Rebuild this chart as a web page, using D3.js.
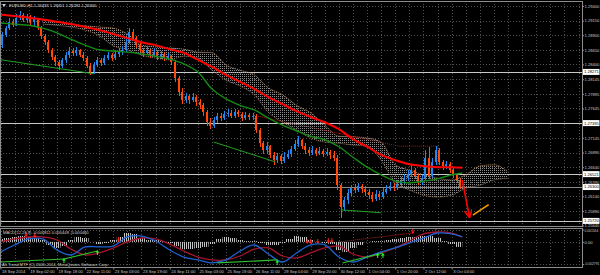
<!DOCTYPE html>
<html>
<head>
<meta charset="utf-8">
<script src="https://cdn.jsdelivr.net/npm/d3@7"></script>
<style>
body { margin: 0; background: #000; }
svg { display: block; }
text { font-family: "Liberation Sans", Arial, sans-serif; }
</style>
</head>
<body>
<script>
var width = 600;
var height = 275;
var plotRight = 582;
var mainTop = 1, mainBottom = 226;
var macdTop = 228, macdBottom = 267;
var fontSize = 4.1;

// EURUSD H1, drawn as 2-hour candles (candle k covers bars 2k..2k+2)
var firstOpen = 1.2873;
var closes = [1.2890,1.2902,1.2913,1.2907,1.2919,1.2925,1.2916,1.2921,1.2913,1.2918,
  1.2902,1.2889,1.2878,1.2865,1.2853,1.2844,1.2837,1.2848,1.2856,1.2863,
  1.2860,1.2865,1.2856,1.2851,1.2837,1.2827,1.2839,1.2848,1.2842,1.2851,
  1.2856,1.2851,1.2858,1.2861,1.2865,1.2878,1.2895,1.2885,1.2873,1.2865,
  1.2860,1.2865,1.2856,1.2861,1.2853,1.2858,1.2851,1.2854,1.2844,1.2817,
  1.2793,1.2779,1.2786,1.2779,1.2784,1.2776,1.2770,1.2758,1.2741,1.2735,
  1.2745,1.2752,1.2748,1.2755,1.2757,1.2752,1.2758,1.2755,1.2748,1.2753,
  1.2750,1.2752,1.2728,1.2705,1.2693,1.2700,1.2685,1.2676,1.2683,1.2675,
  1.2681,1.2687,1.2695,1.2704,1.2711,1.2700,1.2693,1.2688,1.2693,1.2688,
  1.2692,1.2687,1.2690,1.2685,1.2680,1.2633,1.2596,1.2608,1.2620,1.2628,
  1.2625,1.2632,1.2627,1.2621,1.2616,1.2610,1.2618,1.2613,1.2621,1.2627,
  1.2632,1.2628,1.2635,1.2640,1.2645,1.2652,1.2659,1.2649,1.2639,1.2645,
  1.2680,1.2649,1.2673,1.2693,1.2673,1.2666,1.2669,1.2659,1.2651,1.2642,
  1.2630];
var highs = [1.2895,1.2906,1.2919,1.2918,1.2926,1.2931,1.2928,1.2926,1.2925,1.2923,
  1.2919,1.2906,1.2892,1.2882,1.2868,1.2856,1.2848,1.2851,1.2861,1.2870,
  1.2868,1.2870,1.2866,1.2861,1.2854,1.2842,1.2844,1.2853,1.2851,1.2856,
  1.2861,1.2860,1.2865,1.2868,1.2872,1.2885,1.2902,1.2901,1.2889,1.2878,
  1.2868,1.2870,1.2866,1.2868,1.2865,1.2863,1.2861,1.2860,1.2856,1.2848,
  1.2820,1.2800,1.2791,1.2789,1.2791,1.2788,1.2781,1.2774,1.2762,1.2748,
  1.2750,1.2757,1.2757,1.2760,1.2764,1.2762,1.2764,1.2762,1.2758,1.2758,
  1.2757,1.2757,1.2755,1.2731,1.2709,1.2707,1.2702,1.2690,1.2688,1.2687,
  1.2690,1.2693,1.2700,1.2711,1.2717,1.2712,1.2705,1.2699,1.2700,1.2697,
  1.2699,1.2695,1.2697,1.2693,1.2692,1.2685,1.2637,1.2613,1.2627,1.2633,
  1.2635,1.2637,1.2635,1.2632,1.2627,1.2621,1.2625,1.2623,1.2628,1.2633,
  1.2639,1.2637,1.2642,1.2647,1.2652,1.2659,1.2668,1.2663,1.2652,1.2651,
  1.2693,1.2699,1.2680,1.2700,1.2697,1.2676,1.2675,1.2673,1.2663,1.2654,
  1.2645];
var lows = [1.2868,1.2887,1.2899,1.2904,1.2906,1.2916,1.2913,1.2911,1.2907,1.2906,
  1.2899,1.2883,1.2873,1.2860,1.2848,1.2837,1.2830,1.2834,1.2842,1.2851,
  1.2854,1.2854,1.2853,1.2846,1.2834,1.2822,1.2824,1.2836,1.2837,1.2839,
  1.2848,1.2846,1.2848,1.2853,1.2856,1.2861,1.2875,1.2882,1.2868,1.2861,
  1.2853,1.2856,1.2851,1.2853,1.2848,1.2849,1.2846,1.2848,1.2839,1.2810,
  1.2786,1.2772,1.2774,1.2772,1.2776,1.2769,1.2764,1.2752,1.2735,1.2729,
  1.2731,1.2740,1.2743,1.2745,1.2750,1.2748,1.2748,1.2750,1.2743,1.2745,
  1.2745,1.2745,1.2723,1.2699,1.2687,1.2687,1.2680,1.2668,1.2671,1.2669,
  1.2671,1.2678,1.2681,1.2692,1.2699,1.2695,1.2687,1.2683,1.2685,1.2683,
  1.2685,1.2681,1.2683,1.2678,1.2675,1.2625,1.2577,1.2589,1.2601,1.2615,
  1.2620,1.2621,1.2620,1.2615,1.2610,1.2604,1.2606,1.2608,1.2610,1.2618,
  1.2623,1.2623,1.2625,1.2630,1.2635,1.2640,1.2647,1.2644,1.2633,1.2633,
  1.2642,1.2644,1.2645,1.2668,1.2668,1.2659,1.2661,1.2654,1.2645,1.2637,
  1.2627];

// moving averages, read every 8 bars
var maBars = [0,8,16,24,32,40,48,56,64,72,80,88,96,104,112,120,128,136,144,152,160,168,176,184,192,200,208,216,224,232,240,248,256,262];
var redMA = [1.2925,1.2923,1.2920,1.2917,1.2913,1.2909,1.2904,1.2899,1.2892,1.2885,1.2878,1.2873,1.2866,1.2860,1.2848,1.2836,1.2822,1.2810,1.2798,1.2784,1.2772,1.2760,1.2750,1.2741,1.2729,1.2712,1.2699,1.2685,1.2676,1.2669,1.2666,1.2664,1.2664,1.2663];
var greenMA = [1.2911,1.2909,1.2907,1.2902,1.2894,1.2883,1.2873,1.2865,1.2863,1.2861,1.2858,1.2854,1.2849,1.2841,1.2827,1.2798,1.2781,1.2770,1.2762,1.2748,1.2736,1.2726,1.2717,1.2711,1.2699,1.2681,1.2664,1.2651,1.2640,1.2637,1.2640,1.2644,1.2651,1.2654];

// ichimoku cloud edges
var cloudBars = [24,32,40,48,56,64,72,80,88,96,104,112,120,128,136,144,152,160,168,176,184,192,200,208,216,224,232,240,248,256,264,272,280,288];
var cloudTop = [1.2916,1.2913,1.2909,1.2906,1.2904,1.2902,1.2892,1.2873,1.2870,1.2868,1.2866,1.2861,1.2860,1.2839,1.2830,1.2822,1.2800,1.2788,1.2770,1.2757,1.2736,1.2717,1.2716,1.2714,1.2707,1.2668,1.2659,1.2651,1.2645,1.2642,1.2651,1.2666,1.2668,1.2656];
var cloudBottom = [1.2909,1.2907,1.2904,1.2899,1.2889,1.2872,1.2865,1.2856,1.2851,1.2848,1.2854,1.2851,1.2830,1.2813,1.2803,1.2788,1.2758,1.2741,1.2728,1.2714,1.2707,1.2705,1.2702,1.2700,1.2676,1.2637,1.2625,1.2616,1.2613,1.2616,1.2628,1.2633,1.2642,1.2645];

// trend lines [bar, price, bar, price]
var supportLines = [[0,1.2848,53,1.2824],[121,1.2707,156,1.2673],[193,1.2591,216,1.2586]];
var resistLines = [[145,1.2752,226,1.2700],[226,1.2700,248,1.2700],[248,1.2700,248,1.2666]];
var forecastDown = [262,1.2642,266,1.2580];
var forecastUp = [268,1.2582,277,1.2600];

// MACD window
var histBars = [0,4,8,12,16,20,24,28,32,36,40,44,48,52,56,60,64,68,72,76,80,84,88,92,96,100,104,108,112,116,120,124,128,132,136,140,144,148,152,156,160,164,168,172,176,180,184,188,192,196,200,204,208,212,216,220,224,228,232,236,240,244,248,252,256,260];
var histValues = [0.00037,0.00049,0.00062,0.00074,0.00062,0.00049,0.00024,-0.00039,-0.00077,-0.00052,
  0.00024,0.00062,0.00049,-0.00002,-0.00027,-0.00014,0.00024,0.00062,0.00112,0.00100,
  0.00049,0.00024,0.00024,0.00011,-0.00014,-0.00052,-0.00090,-0.00090,-0.00077,-0.00064,
  -0.00027,0.00037,0.00062,0.00049,0.00024,0.00011,0.00011,-0.00014,-0.00039,-0.00039,
  -0.00014,0.00037,0.00074,0.00062,0.00024,-0.00002,-0.00014,-0.00027,-0.00102,-0.00127,
  -0.00077,-0.00039,-0.00002,0.00011,0.00011,0.00024,0.00037,0.00049,0.00062,0.00062,
  0.00074,0.00074,0.00049,0.00011,-0.00027,-0.00064];
var macdBlue = [-0.00127,-0.00039,0.00037,0.00037,-0.00102,-0.00165,-0.00064,-0.00064,-0.00052,0.00062,0.00074,0.00011,-0.00102,-0.00191,-0.00228,-0.00266,-0.00228,-0.00115,-0.00039,-0.00153,-0.00254,-0.00140,-0.00039,-0.00039,-0.00190,-0.00254,-0.00191,-0.00127,-0.00077,-0.00014,0.00049,0.00112,0.00100,0.00062];
var macdRed = [0.00000,0.00037,0.00062,0.00062,0.00024,-0.00090,-0.00165,-0.00140,-0.00077,-0.00001,0.00049,0.00037,-0.00027,-0.00115,-0.00191,-0.00228,-0.00228,-0.00178,-0.00090,-0.00077,-0.00178,-0.00203,-0.00140,-0.00077,-0.00052,-0.00153,-0.00191,-0.00140,-0.00077,0.00011,0.00100,0.00125,0.00112,0.00062];
var sellBars = [14.5,19.5,67,174,176,180,186,188,234,247];
var sellValues = [0.00074,0.00062,0.00011,-0.00014,-0.00014,-0.00014,-0.00001,-0.00001,0.00112,0.00160];
var buyBars = [36,55,157,214,217];
var buyValues = [-0.00216,-0.00115,-0.00241,-0.00153,-0.00153];
var macdGreenLines = [[0,-0.00254,36,-0.00216],[36,-0.00216,55,-0.00115],[123,-0.00266,157,-0.00228],[194,-0.00266,217,-0.00140]];
var macdRedLines = [[192,0.00000,234,0.00112]];

// scales' tick labels
var priceTicks = [1.29400,1.29150,1.28900,1.28650,1.28400,1.28145,1.27895,1.27645,1.27145,1.26890,1.26640,1.26390,1.26140,1.25890,1.25640];
var levels = [1.28271,1.27395,1.26521,1.25720];
var bid = 1.26300;
var macdTicks = [0.001564,0,-0.002791];
var macdTickText = ["0.001564","0.00","-0.002791"];
var timeBars = [0,16,32,48,64,80,96,112,128,144,160,176,192,208,224,240,256];
var timeLabels = ["18 Sep 2014","19 Sep 02:00","19 Sep 18:00","22 Sep 11:00","23 Sep 03:00","23 Sep 19:00","24 Sep 11:00","25 Sep 03:00","25 Sep 19:00","26 Sep 11:00","29 Sep 04:00","29 Sep 20:00","30 Sep 12:00","1 Oct 04:00","1 Oct 20:00","2 Oct 12:00","3 Oct 04:00"];
var title = "EURUSD,H1  1.26433 1.26451 1.26281 1.26300";
var macdTitle = "MACD(12,26,9) -0.000811 0.000448 -0.000460";
var footer = "Alt.Trend MTF (C) 2005-2014, MetaQuotes Software Corp.";

var x = d3.scaleLinear()
.domain([0,330])
.range([0.5,582.1]);

var y = d3.scaleLinear()
.domain([1.2940,1.2565])
.range([6,225]);

var my = d3.scaleLinear()
.domain([0.001564,-0.002791])
.range([229.5,264]);

var svg = d3.select("body").append("svg")
.attr("width",width)
.attr("height",height)
.style("background","#000")

var defs = svg.append("defs")
defs.append("pattern").attr("id","kumo")
.attr("width",2).attr("height",2).attr("patternUnits","userSpaceOnUse")
.append("rect").attr("width",1).attr("height",1).attr("fill","#8a8a8a")
defs.append("pattern").attr("id","stripes")
.attr("width",2).attr("height",4).attr("patternUnits","userSpaceOnUse")
.append("rect").attr("width",1).attr("height",4).attr("fill","#c4c4c4")
defs.append("clipPath").attr("id","clipMain")
.append("rect").attr("x",0).attr("y",mainTop).attr("width",plotRight).attr("height",mainBottom-mainTop)
defs.append("clipPath").attr("id","clipMacd")
.append("rect").attr("x",0).attr("y",macdTop).attr("width",plotRight).attr("height",macdBottom-macdTop)

// grid
var grid = svg.append("g")
.attr("stroke","#505050")
.attr("stroke-dasharray","1,2")
.attr("shape-rendering","crispEdges")
d3.range(0,329,8).forEach(function(b) {
    var gx = Math.round(x(b)) + 0.5
    grid.append("line").attr("x1",gx).attr("x2",gx).attr("y1",mainTop).attr("y2",mainBottom)
    grid.append("line").attr("x1",gx).attr("x2",gx).attr("y1",macdTop).attr("y2",macdBottom)
})
priceTicks.concat([1.27395]).forEach(function(p) {
    var gy = Math.round(y(p)) + 0.5
    grid.append("line").attr("x1",0).attr("x2",plotRight).attr("y1",gy).attr("y2",gy)
})
macdTicks.forEach(function(v) {
    var gy = Math.round(my(v)) + 0.5
    grid.append("line").attr("x1",0).attr("x2",plotRight).attr("y1",gy).attr("y2",gy)
})

var main = svg.append("g").attr("clip-path","url(#clipMain)")

// horizontal levels and bid line
main.selectAll(".level").data(levels).enter().append("line")
.attr("x1",0).attr("x2",plotRight)
.attr("y1",function(d) { return Math.round(y(d)) + 0.5 })
.attr("y2",function(d) { return Math.round(y(d)) + 0.5 })
.attr("stroke","#c8c8c8").attr("stroke-width",1)
main.append("line")
.attr("x1",0).attr("x2",plotRight)
.attr("y1",Math.round(y(bid)) + 0.5).attr("y2",Math.round(y(bid)) + 0.5)
.attr("stroke","#8a8a8a")

// cloud
var cloudData = cloudBars.map(function(b, i) { return [b, cloudTop[i], cloudBottom[i]] })
main.append("path").datum(cloudData)
.attr("d", d3.area().curve(d3.curveMonotoneX)
    .x(function(d) { return x(d[0]) })
    .y0(function(d) { return y(d[2]) })
    .y1(function(d) { return y(d[1]) }))
.attr("fill","url(#kumo)")
main.append("path").datum(cloudData)
.attr("d", d3.line().curve(d3.curveMonotoneX).x(function(d) { return x(d[0]) }).y(function(d) { return y(d[1]) }))
.attr("fill","none").attr("stroke","#c8976a").attr("stroke-dasharray","1,1")
main.append("path").datum(cloudData)
.attr("d", d3.line().curve(d3.curveMonotoneX).x(function(d) { return x(d[0]) }).y(function(d) { return y(d[2]) }))
.attr("fill","none").attr("stroke","#9c7d64").attr("stroke-dasharray","1,1")

// resistance (dotted dark red) and support (green) lines
main.selectAll(".res").data(resistLines).enter().append("line")
.attr("x1",function(d) { return x(d[0]) }).attr("y1",function(d) { return y(d[1]) })
.attr("x2",function(d) { return x(d[2]) }).attr("y2",function(d) { return y(d[3]) })
.attr("stroke","#a01414").attr("stroke-dasharray","1,1")

// candles
var candles = closes.map(function(c, i) {
    var o = i == 0 ? firstOpen : closes[i-1]
    return { bar: 2*i + 1, o: o, c: c, h: Math.max(highs[i], o, c), l: Math.min(lows[i], o, c) }
})
var cg = main.append("g").attr("shape-rendering","crispEdges")
cg.selectAll(".wick").data(candles).enter().append("line")
.attr("x1",function(d) { return Math.round(x(d.bar)) + 0.5 })
.attr("x2",function(d) { return Math.round(x(d.bar)) + 0.5 })
.attr("y1",function(d) { return y(d.h) })
.attr("y2",function(d) { return y(d.l) })
.attr("stroke",function(d) { return d.c >= d.o ? "#2288ee" : "#ff4a0a" })
cg.selectAll(".body").data(candles).enter().append("rect")
.attr("x",function(d) { return Math.round(x(d.bar)) - 1 })
.attr("width",2)
.attr("y",function(d) { return y(Math.max(d.o, d.c)) })
.attr("height",function(d) { return Math.max(1, Math.abs(y(d.o) - y(d.c))) })
.attr("fill",function(d) { return d.c >= d.o ? "#2288ee" : "#ff4a0a" })

main.selectAll(".sup").data(supportLines).enter().append("line")
.attr("x1",function(d) { return x(d[0]) }).attr("y1",function(d) { return y(d[1]) })
.attr("x2",function(d) { return x(d[2]) }).attr("y2",function(d) { return y(d[3]) })
.attr("stroke","#22a022").attr("stroke-width",1)

// moving averages
var maLine = d3.line().curve(d3.curveCatmullRom)
.x(function(d) { return x(d[0]) })
.y(function(d) { return y(d[1]) })
main.append("path").datum(d3.zip(maBars, greenMA))
.attr("d",maLine).attr("fill","none").attr("stroke","#158a15").attr("stroke-width",1.4)
main.append("path").datum(d3.zip(maBars, redMA))
.attr("d",maLine).attr("fill","none").attr("stroke","#ff0000").attr("stroke-width",2)

// forecast arrows
defs.append("marker").attr("id","head")
.attr("viewBox","0 0 10 10").attr("refX",8).attr("refY",5)
.attr("markerWidth",5).attr("markerHeight",5).attr("orient","auto")
.append("path").attr("d","M0,0 L10,5 L0,10").attr("fill","none").attr("stroke","#ff0000").attr("stroke-width",2)
main.append("line")
.attr("x1",x(forecastDown[0])).attr("y1",y(forecastDown[1]))
.attr("x2",x(forecastDown[2])).attr("y2",y(forecastDown[3]))
.attr("stroke","#ff0000").attr("stroke-width",1.6).attr("marker-end","url(#head)")
main.append("line")
.attr("x1",x(forecastUp[0])).attr("y1",y(forecastUp[1]))
.attr("x2",x(forecastUp[2])).attr("y2",y(forecastUp[3]))
.attr("stroke","#ffa000").attr("stroke-width",1.5)

// MACD window
var macd = svg.append("g").attr("clip-path","url(#clipMacd)")
var bw = x(4) - x(0)
macd.selectAll(".hist").data(d3.zip(histBars, histValues)).enter().append("rect")
.attr("x",function(d) { return x(d[0]) - bw/2 })
.attr("width",bw)
.attr("y",function(d) { return my(Math.max(0, d[1])) })
.attr("height",function(d) { return Math.abs(my(d[1]) - my(0)) })
.attr("fill","url(#stripes)")
var mLine = d3.line().curve(d3.curveCatmullRom)
.x(function(d) { return x(d[0]) })
.y(function(d) { return my(d[1]) })
macd.append("path").datum(d3.zip(maBars, macdRed))
.attr("d",mLine).attr("fill","none").attr("stroke","#a8142e").attr("stroke-width",1.3)
macd.append("path").datum(d3.zip(maBars, macdBlue))
.attr("d",mLine).attr("fill","none").attr("stroke","#1e62d0").attr("stroke-width",1.3)
macd.selectAll(".mg").data(macdGreenLines).enter().append("line")
.attr("x1",function(d) { return x(d[0]) }).attr("y1",function(d) { return my(d[1]) })
.attr("x2",function(d) { return x(d[2]) }).attr("y2",function(d) { return my(d[3]) })
.attr("stroke","#30c030").attr("stroke-width",1.2)
macd.selectAll(".mr").data(macdRedLines).enter().append("line")
.attr("x1",function(d) { return x(d[0]) }).attr("y1",function(d) { return my(d[1]) })
.attr("x2",function(d) { return x(d[2]) }).attr("y2",function(d) { return my(d[3]) })
.attr("stroke","#c01818").attr("stroke-dasharray","1,1")

macd.selectAll(".sell").data(d3.zip(sellBars, sellValues)).enter().append("path")
.attr("transform",function(d) { return "translate(" + x(d[0]) + "," + (my(d[1]) - 1) + ")" })
.attr("d","M-1.8,-0.5 L1.8,-0.5 L0,2 Z M-0.5,-3 L0.5,-3 L0.5,-0.5 L-0.5,-0.5 Z")
.attr("fill","#ff2020")
macd.selectAll(".buy").data(d3.zip(buyBars, buyValues)).enter().append("path")
.attr("transform",function(d) { return "translate(" + x(d[0]) + "," + (my(d[1]) + 1) + ")" })
.attr("d","M-1.8,0.5 L1.8,0.5 L0,-2 Z M-0.5,3 L0.5,3 L0.5,0.5 L-0.5,0.5 Z")
.attr("fill","#20ff20")

// frames
svg.append("rect").attr("x",0.5).attr("y",mainTop + 0.5).attr("width",plotRight).attr("height",mainBottom - mainTop)
.attr("fill","none").attr("stroke","#8c8c8c")
svg.append("rect").attr("x",0.5).attr("y",macdTop + 0.5).attr("width",plotRight).attr("height",macdBottom - macdTop)
.attr("fill","none").attr("stroke","#8c8c8c")

// price axis
var pAxis = svg.append("g")
.attr("transform","translate(" + (plotRight + 0.5) + ",0)")
.call(d3.axisRight(y).tickValues(priceTicks).tickSize(1.5).tickPadding(0.5).tickFormat(d3.format(".5f")))
var mAxis = svg.append("g")
.attr("transform","translate(" + (plotRight + 0.5) + ",0)")
.call(d3.axisRight(my).tickValues(macdTicks).tickSize(1.5).tickPadding(0.5).tickFormat(function(d, i) { return macdTickText[i] }))
var tAxis = svg.append("g")
.attr("transform","translate(0," + (macdBottom + 0.5) + ")")
.call(d3.axisBottom(x).tickValues(timeBars).tickSize(2).tickPadding(1).tickFormat(function(d, i) { return timeLabels[i] }))
;[pAxis, mAxis, tAxis].forEach(function(a) {
    a.select(".domain").remove()
    a.attr("font-family",null).attr("font-size",fontSize)
    a.selectAll("line").attr("stroke","#8c8c8c")
    a.selectAll("text").attr("fill","#c8c8c8")
})
tAxis.selectAll("text").attr("text-anchor","start").attr("dx",1)
// the long MACD labels use a smaller size so they stay inside the window
mAxis.selectAll("text")
.attr("font-size",function(d, i) { return i == 1 ? fontSize : 3.3 })
mAxis.selectAll(".tick").filter(function(d, i) { return i == 0 }).select("text").attr("dy","0.6em")
mAxis.selectAll(".tick").filter(function(d, i) { return i == 2 }).select("text").attr("dy","0.1em")

// highlighted price labels
var marks = levels.concat([bid])
var hl = svg.append("g")
hl.selectAll("rect").data(marks).enter().append("rect")
.attr("x",plotRight + 1).attr("width",16.5)
.attr("y",function(d) { return y(d) - 3 }).attr("height",6)
.attr("fill","#ffffff")
hl.selectAll("text").data(marks).enter().append("text")
.attr("x",plotRight + 2)
.attr("y",function(d) { return y(d) })
.attr("dy","0.35em")
.attr("font-size",fontSize)
.attr("fill","#000")
.text(function(d) { return d3.format(".5f")(d) })

// texts
svg.append("path").attr("d","M2,4 L6,4 L4,7 Z").attr("fill","#c8c8c8")
svg.append("text").attr("x",9).attr("y",7.2).attr("font-size",fontSize).attr("fill","#e0e0e0").text(title)
svg.append("text").attr("x",3).attr("y",234).attr("font-size",fontSize).attr("fill","#d0d0d0").text(macdTitle)
svg.append("text").attr("x",2).attr("y",266).attr("font-size",fontSize).attr("fill","#d0d0d0").text(footer)
</script>
</body>
</html>
